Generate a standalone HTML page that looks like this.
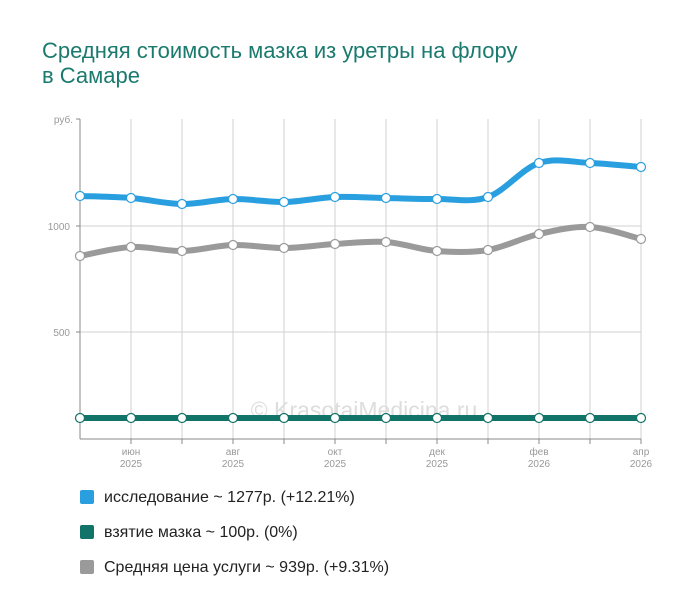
<!DOCTYPE html>
<html><head><meta charset="utf-8"><style>
body{margin:0;background:#fff;width:700px;height:616px;overflow:hidden;font-family:"Liberation Sans",sans-serif}
h1{position:absolute;left:42px;top:38px;margin:0;font-weight:normal;font-size:22px;line-height:25px;color:#1a7a6e}
.leg{position:absolute;left:80px;font-size:16px;color:#222}
.leg i{display:inline-block;width:14px;height:14px;border-radius:2px;vertical-align:-2px;margin-right:10px}
</style></head><body>
<h1>Средняя стоимость мазка из уретры на флору<br>в Самаре</h1>
<svg id="s" width="700" height="616" style="position:absolute;left:0;top:0" font-family="Liberation Sans, sans-serif">
<g stroke="#e0e0e0" stroke-width="1.5"><line x1="80" y1="226" x2="641" y2="226"/><line x1="80" y1="332" x2="641" y2="332"/></g>
<g id="grid" stroke="#d0d0d0" stroke-width="1"></g>
<g stroke="#888" stroke-width="1"><line x1="80" y1="119" x2="80" y2="439"/><line x1="80" y1="439" x2="641" y2="439"/><line x1="76" y1="119" x2="80" y2="119"/><line x1="76" y1="226" x2="80" y2="226"/><line x1="76" y1="332" x2="80" y2="332"/></g>
<g font-size="10" fill="#999" text-anchor="end"><text x="73" y="123">руб.</text><text x="70" y="230">1000</text><text x="70" y="336">500</text></g>
<g id="xl" font-size="10" fill="#999" text-anchor="middle"></g>
<text x="364" y="418" font-size="23" fill="#ddd" text-anchor="middle">© KrasotaiMedicina.ru</text>
<g id="lines"></g>
</svg>
<div class="leg" style="top:489px"><i style="background:#2a9fe0"></i>исследование ~ 1277р. (+12.21%)</div>
<div class="leg" style="top:524px"><i style="background:#127369"></i>взятие мазка ~ 100р. (0%)</div>
<div class="leg" style="top:559px"><i style="background:#9a9a9a"></i>Средняя цена услуги ~ 939р. (+9.31%)</div>
<script>
var xs=[];for(var i=0;i<12;i++)xs.push(80+51*i);
var g=document.getElementById('grid'),xl=document.getElementById('xl'),L=document.getElementById('lines');
var ns='http://www.w3.org/2000/svg';
function el(t,a,p){var e=document.createElementNS(ns,t);for(var k in a)e.setAttribute(k,a[k]);p.appendChild(e);return e}
xs.forEach(function(x,i){if(i>0){el('line',{x1:x,y1:119,x2:x,y2:439},g);el('line',{x1:x,y1:439,x2:x,y2:444,stroke:'#888'},g);}});
var lab=[[1,'июн'],[3,'авг'],[5,'окт'],[7,'дек'],[9,'фев'],[11,'апр']];
lab.forEach(function(l){var t=el('text',{x:xs[l[0]],y:455},xl);t.textContent=l[1];var t2=el('text',{x:xs[l[0]],y:467},xl);t2.textContent=l[0]<8?'2025':'2026';});
function path(ys){var d='M'+xs[0]+','+ys[0];for(var i=0;i<11;i++){var p0=[xs[Math.max(i-1,0)],ys[Math.max(i-1,0)]],p1=[xs[i],ys[i]],p2=[xs[i+1],ys[i+1]],p3=[xs[Math.min(i+2,11)],ys[Math.min(i+2,11)]];
d+=' C'+(p1[0]+(p2[0]-p0[0])/6)+','+(p1[1]+(p2[1]-p0[1])/6)+' '+(p2[0]-(p3[0]-p1[0])/6)+','+(p2[1]-(p3[1]-p1[1])/6)+' '+p2[0]+','+p2[1];}return d}
var S=[[[196,198,204,199,202,197,198,199,197,163,163,167],'#2a9fe0'],[[256,247,251,245,248,244,242,251,250,234,227,239],'#9a9a9a'],[[418,418,418,418,418,418,418,418,418,418,418,418],'#127369']];
S.forEach(function(s){el('path',{d:path(s[0]),fill:'none',stroke:s[1],'stroke-width':6,'stroke-linecap':'round'},L);
s[0].forEach(function(y,i){el('circle',{cx:xs[i],cy:y,r:4.5,fill:'#fff',stroke:s[1],'stroke-width':1.2},L)})});
</script>
</body></html>
